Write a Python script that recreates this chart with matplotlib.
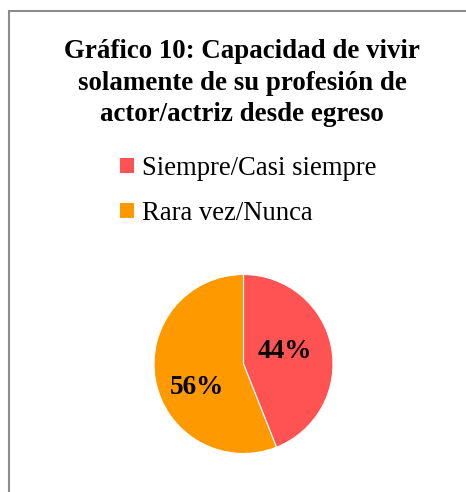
import matplotlib.pyplot as plt
from matplotlib.patches import Patch, Rectangle

# Data
categories = ["Siempre/Casi siempre", "Rara vez/Nunca"]
values = [44, 56]
colors = ["#FF5252", "#FF9900"]
title = "Gráfico 10: Capacidad de vivir\nsolamente de su profesión de\nactor/actriz desde egreso"

plt.rcParams["font.family"] = ["Liberation Serif", "DejaVu Serif"]

W, H = 466, 492
fig = plt.figure(figsize=(W / 100, H / 100), dpi=100)

# border (top and left visible, runs off the right and bottom)
fig.patches.append(Rectangle((9 / W, -0.1), 1.2, 1 - 11 / H + 0.1,
                             transform=fig.transFigure, fill=False,
                             edgecolor="#8c8c8c", linewidth=1.5))

fig.text(242 / W, 1 - 83 / H, title, ha="center", va="center",
         fontsize=19.4, fontweight="bold", linespacing=1.32)

handles = [Patch(facecolor=c, edgecolor="none") for c in colors]
fig.legend(handles, categories, loc="upper left",
           bbox_to_anchor=(107 / W, 1 - 143 / H), frameon=False,
           fontsize=19.2, handlelength=0.5, handleheight=0.5,
           handletextpad=0.3, labelspacing=0.75, borderpad=0)

# pie axes
cx, cy, r = 243.5, 364, 89.5
ax = fig.add_axes([(cx - r) / W, (H - cy - r) / H, 2 * r / W, 2 * r / H])
wedges, texts, autotexts = ax.pie(values, colors=colors, startangle=90,
                                  counterclock=False, radius=1,
                                  autopct="%1.0f%%", pctdistance=0.52,
                                  wedgeprops=dict(linewidth=0.8, edgecolor="white"),
                                  textprops=dict(fontsize=19.5, fontweight="bold"))
# nudge labels like the original
autotexts[0].set_position((0.46, 0.14))
autotexts[1].set_position((-0.52, -0.26))
ax.set_xlim(-1, 1)
ax.set_ylim(-1, 1)
ax.axis("off")

fig.savefig("out.png", dpi=100)
